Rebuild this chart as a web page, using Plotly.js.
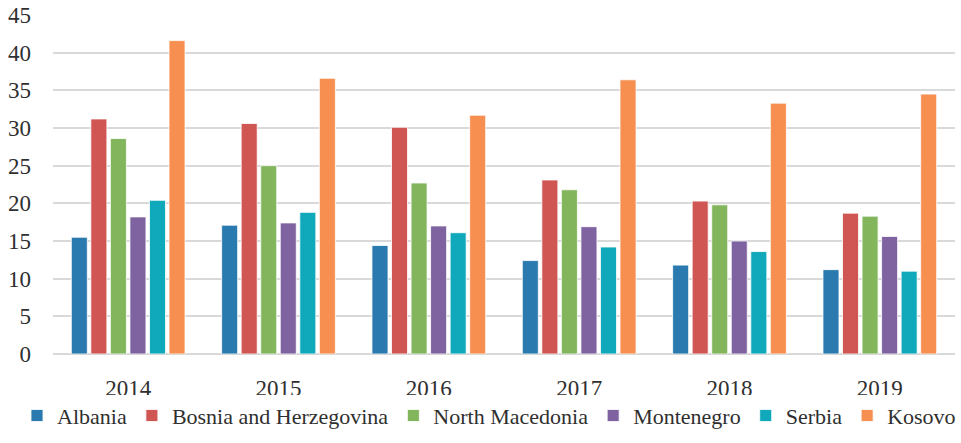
<!DOCTYPE html>
<html>
<head>
<meta charset="utf-8">
<script src="https://cdn.plot.ly/plotly-3.0.1.min.js"></script>
<style>html,body{margin:0;padding:0;background:#fff;}#chart{width:961px;height:443px;}</style>
</head>
<body>
<div id="chart"></div>
<script>
const years = ["2014", "2015", "2016", "2017", "2018", "2019"];
const albania = [15.5, 17.1, 14.4, 12.4, 11.8, 11.2];
const bosnia = [31.2, 30.6, 30.1, 23.1, 20.3, 18.7];
const northMacedonia = [28.6, 25.0, 22.7, 21.8, 19.8, 18.3];
const montenegro = [18.2, 17.4, 17.0, 16.9, 15.0, 15.6];
const serbia = [20.4, 18.8, 16.1, 14.2, 13.6, 11.0];
const kosovo = [41.6, 36.6, 31.7, 36.4, 33.3, 34.5];
const seriesNames = ["Albania", "Bosnia and Herzegovina", "North Macedonia", "Montenegro", "Serbia", "Kosovo"];
const seriesValues = [albania, bosnia, northMacedonia, montenegro, serbia, kosovo];
const seriesColors = ["#2a7ab0", "#d05653", "#82b55c", "#7f63a0", "#10a9bb", "#f68f4f"];

const traces = seriesNames.map((name, i) => ({
  type: "bar",
  name: name,
  x: years,
  y: seriesValues[i],
  marker: { color: seriesColors[i], line: { color: "rgba(255,255,255,0.8)", width: 1 } }
}));

function serif(size) { return { family: "Liberation Serif", size: size, color: "#2f2f2f" }; }

const layout = {
  width: 961,
  height: 443,
  margin: { l: 53, r: 6, t: 15, b: 89 },
  paper_bgcolor: "#ffffff",
  plot_bgcolor: "#ffffff",
  font: serif(23),
  barmode: "group",
  bargap: 0.22,
  bargroupgap: 0.18,
  showlegend: true,
  legend: {
    orientation: "h",
    x: -0.012,
    xanchor: "left",
    y: -0.244,
    yanchor: "bottom",
    font: serif(22),
    itemwidth: 30,
    traceorder: "normal"
  },
  xaxis: {
    type: "category",
    showgrid: false,
    zeroline: false,
    showline: false,
    ticks: "",
    ticklabelstandoff: 18,
    tickfont: serif(23)
  },
  yaxis: {
    range: [0, 45],
    dtick: 5,
    tick0: 0,
    showgrid: true,
    gridcolor: "#d9d9d9",
    gridwidth: 2,
    zeroline: true,
    zerolinecolor: "#d9d9d9",
    zerolinewidth: 2,
    showline: false,
    ticks: "",
    ticklabelstandoff: 21,
    tickfont: serif(23)
  }
};

Plotly.newPlot("chart", traces, layout, { displayModeBar: false, staticPlot: true });
</script>
</body>
</html>
